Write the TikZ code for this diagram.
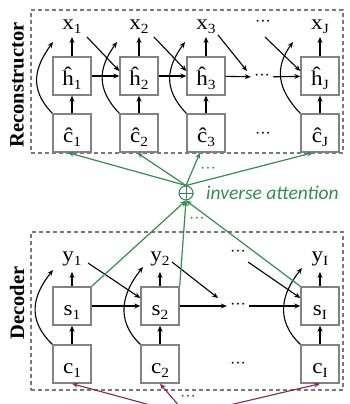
\documentclass[tikz,border=0pt]{standalone}
\usepackage{fontspec}
\setmainfont{Liberation Serif}
\newfontfamily\lblfont[FakeStretch=1.1]{Liberation Serif}
\newfontfamily\iafont{Carlito}
\usetikzlibrary{arrows.meta}
\definecolor{gr}{RGB}{52,140,80}
\definecolor{pu}{RGB}{140,35,80}
\definecolor{bx}{RGB}{130,130,130}
\definecolor{dsh}{RGB}{120,120,120}
\newcommand\sbs[1]{\raisebox{-4pt}{\fontsize{14}{14}\selectfont #1}}
\begin{document}
\begin{tikzpicture}[x=1pt,y=-1pt,
 cell/.style={draw=bx, line width=1.4pt, fill=white, minimum width=38pt, minimum height=38pt, inner sep=0pt, text height=22pt, text depth=4pt, font=\lblfont\fontsize{21}{24}\selectfont},
 lbl/.style={inner sep=0pt, anchor=base, text depth=0pt, font=\lblfont\fontsize{21}{24}\selectfont},
 dts/.style={inner sep=3pt, font=\fontsize{16}{16}\selectfont},
 arr/.style={line width=1.1pt, -{Stealth[length=6pt,width=5pt]}},
 garr/.style={gr, line width=1.2pt, -{Stealth[length=6pt,width=5pt]}},
 parr/.style={pu, line width=1.1pt, -{Stealth[length=6pt,width=5pt]}},
 dbox/.style={draw=dsh, line width=1.2pt, dash pattern=on 4pt off 3pt, inner sep=0pt},
 side/.style={rotate=90, font=\fontsize{20.5}{24}\selectfont\bfseries, inner sep=0pt}]
\useasboundingbox (0,0) rectangle (349,404);
% frames
\node[dbox, minimum width=312pt, minimum height=143pt] (rb) at (187,81.5) {};
\node[dbox, minimum width=312pt, minimum height=158pt] (db) at (187,311) {};
\node[side] (rl) at (17,85) {Reconstructor};
\node[side] (dl) at (17,303) {Decoder};
% reconstructor
\node[cell] (h1) at (72,76) {ĥ\sbs{1}};
\node[cell] (h2) at (139,76) {ĥ\sbs{2}};
\node[cell] (h3) at (206,76) {ĥ\sbs{3}};
\node[cell] (hJ) at (320,76) {ĥ\sbs{J}};
\node[cell] (ch1) at (72,133) {ĉ\sbs{1}};
\node[cell] (ch2) at (139,133) {ĉ\sbs{2}};
\node[cell] (ch3) at (206,133) {ĉ\sbs{3}};
\node[cell] (chJ) at (320,133) {ĉ\sbs{J}};
\node[lbl] (x1) at (72,30) {x\sbs{1}};
\node[lbl] (x2) at (139,30) {x\sbs{2}};
\node[lbl] (x3) at (206,30) {x\sbs{3}};
\node[lbl] (xJ) at (320,30) {x\sbs{J}};
\node[dts] (xd) at (263,23) {···};
\node[dts] (hd) at (262,77) {···};
\node[dts] (cd) at (263,135) {···};
\foreach \i in {1,2,3,J}{
  \draw[arr] (ch\i) -- (h\i);
  \draw[arr, shorten >=7pt] (h\i) -- (x\i.base);
}
\draw[arr] (h1) -- (h2);
\draw[arr] (h2) -- (h3);
\draw[arr] (h3) -- (hd);
\draw[arr] (hd) -- (hJ);
\draw[arr] ([shift={(15,7)}]x1.base) -- ([yshift=5pt]h2.west);
\draw[arr] ([shift={(15,7)}]x2.base) -- ([yshift=5pt]h3.west);
\draw[arr] ([shift={(12,5)}]x3.base) -- ([shift={(-15,-6)}]hd.center);
\draw[arr] ([shift={(2,14)}]xd.center) -- ([yshift=5pt]hJ.west);
\draw[arr] (ch1.north west) .. controls +(-24,-25) and +(-18,25) .. ([shift={(-19,12)}]x1.base);
\draw[arr] (ch2.north west) .. controls +(-24,-25) and +(-18,25) .. ([shift={(-22,12)}]x2.base);
\draw[arr] (ch3.north west) .. controls +(-24,-25) and +(-18,25) .. ([shift={(-21,12)}]x3.base);
\draw[arr] (chJ.north west) .. controls +(-24,-25) and +(-18,25) .. ([shift={(-27,12)}]xJ.base);
% decoder
\node[cell] (s1) at (72,306) {s\sbs{1}};
\node[cell] (s2) at (160,306) {s\sbs{2}};
\node[cell] (sI) at (320,306) {s\sbs{I}};
\node[cell] (c1) at (72,364) {c\sbs{1}};
\node[cell] (c2) at (160,364) {c\sbs{2}};
\node[cell] (cI) at (320,364) {c\sbs{I}};
\node[lbl] (y1) at (72,261) {y\sbs{1}};
\node[lbl] (y2) at (160,261) {y\sbs{2}};
\node[lbl] (yI) at (320,261) {y\sbs{I}};
\node[dts] (yd) at (238,253) {···};
\node[dts] (sd) at (238,306) {···};
\node[dts] (cdd) at (238,365) {···};
\foreach \i in {1,2,I}{
  \draw[arr] (c\i) -- (s\i);
  \draw[arr, shorten >=11pt] (s\i) -- (y\i.base);
}
\draw[arr] (s1) -- (s2);
\draw[arr] (s2) -- (sd);
\draw[arr] (sd) -- (sI);
\draw[arr] ([shift={(16,2)}]y1.base) -- ([yshift=8pt]s2.west);
\draw[arr] ([shift={(12,1)}]y2.base) -- ([shift={(-20,-8)}]sd.center);
\draw[arr] ([shift={(10,9)}]yd.center) -- ([yshift=8pt]sI.west);
\draw[arr] (c1.north west) .. controls +(-26,-25) and +(-20,25) .. ([shift={(-19,9)}]y1.base);
\draw[arr] (c2.north west) .. controls +(-26,-25) and +(-20,25) .. ([shift={(-17,6)}]y2.base);
\draw[arr] (cI.north west) .. controls +(-26,-25) and +(-20,25) .. ([shift={(-18,7)}]yI.base);
% inverse attention
\node[circle, draw=gr, line width=1pt, minimum size=14pt, inner sep=0pt] (op) at (186,193) {};
\draw[gr, line width=1pt] (op.north) -- (op.south) (op.west) -- (op.east);
\node[anchor=west, inner sep=0pt, text=gr, font=\iafont\itshape\fontsize{19.5}{22}\selectfont] (ia) at (206,193) {inverse attention};
\node[dts, text=gr] (gd1) at (208,170) {···};
\node[dts, text=gr] (gd2) at (197,220) {···};
\draw[garr] (op.north) -- ([xshift=-4pt]ch1.south);
\draw[garr] (op.north) -- ([xshift=-2pt]ch2.south);
\draw[garr] (op.north) -- ([xshift=-6pt]ch3.south);
\draw[garr] (op.north) -- ([xshift=-7pt]chJ.south);
\draw[garr] (s1.north east) -- (op.south);
\draw[garr] (s2.north east) -- (op.south);
\draw[garr] (sI.north west) -- (op.south);
% source attention
\coordinate (src) at (187,415);
\node[dts, inner sep=1pt, text=pu] (pd) at (188,398) {···};
\draw[parr] (src) -- (c1.south);
\draw[parr] (src) -- (c2.south);
\draw[parr] (src) -- (cI.south);
\end{tikzpicture}
\end{document}
